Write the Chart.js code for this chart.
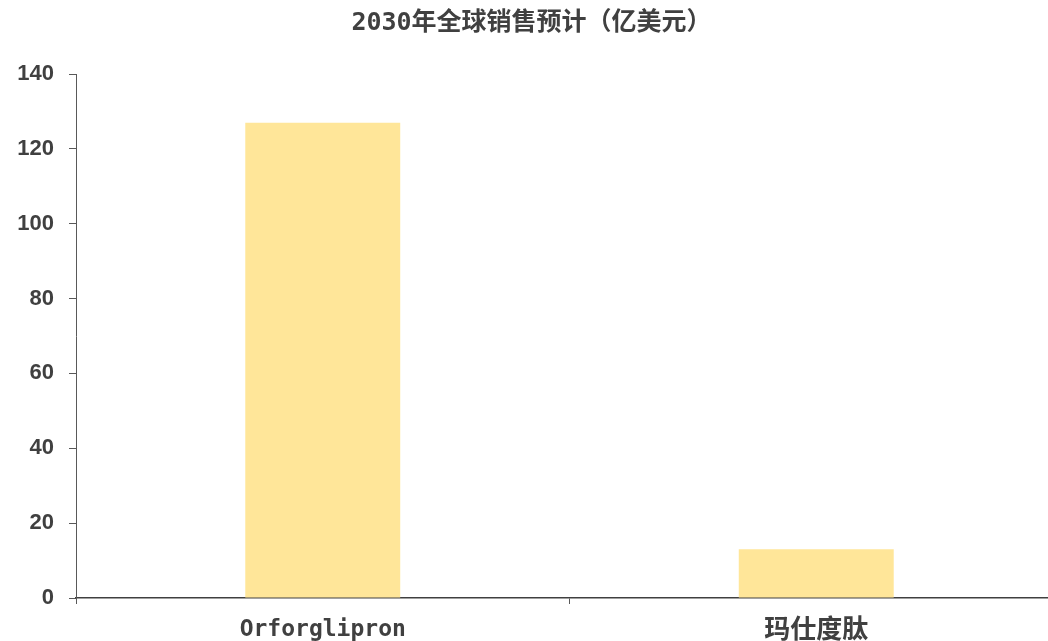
<!DOCTYPE html>
<html>
<head>
<meta charset="utf-8">
<script src="https://cdn.jsdelivr.net/npm/chart.js@4/dist/chart.umd.min.js"></script>
<style>
  html, body { margin: 0; padding: 0; background: #ffffff; overflow: hidden; }
  #wrap { position: absolute; left: 0; top: 0; width: 1076px; height: 641px; }
</style>
</head>
<body>
<div id="wrap"><canvas id="chart" width="1076" height="641"></canvas></div>
<script>
// Forecast global sales in 2030 (100 million USD)
const titleText = '2030年全球销售预计（亿美元）';
const categories = ['Orforglipron', '玛仕度肽'];
const salesValues = [127, 13];
const yTickMax = 140;
const yTickStep = 20;

const textColor = '#404040';
const axisColor = '#595959';
const barColor = '#FFE699';
const monoCjk = '"DejaVu Sans Mono", "Noto Sans CJK SC", sans-serif';

// Latin names use the mono face; Chinese names get a slightly larger size
const xTickFont = ctx => {
  const label = categories[ctx.index] || '';
  const isCjk = /[\u4e00-\u9fff]/.test(label);
  return { family: monoCjk, size: isCjk ? 26 : 23, weight: 'bold' };
};

new Chart(document.getElementById('chart'), {
  type: 'bar',
  data: {
    labels: categories,
    datasets: [{
      data: salesValues,
      backgroundColor: barColor,
      borderWidth: 0,
      categoryPercentage: 1,
      barPercentage: 0.314
    }]
  },
  options: {
    responsive: false,
    devicePixelRatio: 1,
    animation: false,
    layout: { padding: { left: 0, right: 13, top: 0, bottom: 0 } },
    plugins: {
      legend: { display: false },
      tooltip: { enabled: false },
      title: {
        display: true,
        text: titleText,
        color: textColor,
        font: { family: monoCjk, size: 25, weight: 'bold', lineHeight: 1.2 },
        padding: { top: 8, bottom: 36 }
      }
    },
    scales: {
      x: {
        grid: { offset: true, drawOnChartArea: false, tickLength: 6, color: axisColor, lineWidth: 1 },
        border: { color: textColor, width: 1.5 },
        ticks: {
          color: textColor,
          padding: 12,
          font: xTickFont
        },
        afterFit: s => { s.height = 43; }
      },
      y: {
        min: 0,
        max: yTickMax,
        grid: { drawOnChartArea: false, tickLength: 7, color: axisColor, lineWidth: 1 },
        border: { color: axisColor, width: 1 },
        ticks: {
          stepSize: yTickStep,
          color: textColor,
          padding: 15,
          font: { family: '"Liberation Sans", Arial, sans-serif', size: 22, weight: 'bold' }
        },
        afterFit: s => { s.width = 76; }
      }
    }
  }
});
</script>
</body>
</html>
